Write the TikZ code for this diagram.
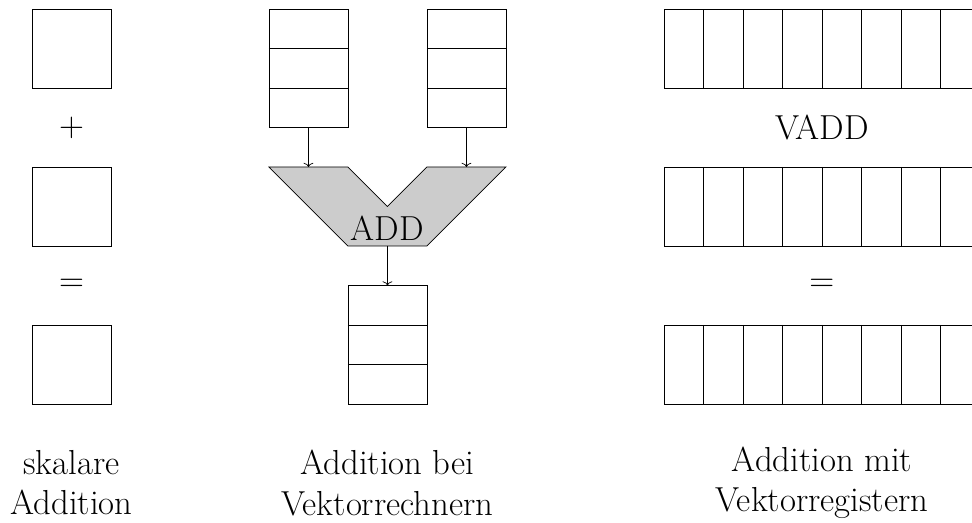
\documentclass[tikz,border=0pt]{standalone}
\usetikzlibrary{arrows.meta}
\begin{document}
\begin{tikzpicture}[
  line width=0.5pt,
  sq/.style={draw, minimum width=2cm, minimum height=2cm, inner sep=0pt, outer sep=0pt},
  vreg/.style={draw, minimum width=2cm, minimum height=3cm, inner sep=0pt, outer sep=0pt},
  hreg/.style={draw, minimum width=8cm, minimum height=2cm, inner sep=0pt, outer sep=0pt},
  lbl/.style={font=\fontsize{25}{29}\selectfont, inner sep=0pt, align=center},
  alu/.style={draw, fill=black!20, line join=miter},
  arr/.style={-{To[width=7pt,length=3pt]}}
]
\useasboundingbox (-0.81,0.228) rectangle (23.80,-13.01);
% scalar addition
\node[sq] (s1) at (1,-1) {};
\node[sq] (s2) at (1,-5) {};
\node[sq] (s3) at (1,-9) {};
\node[lbl] (plus) at (1,-3) {$+$};
\node[lbl] (eq1) at (1,-7) {$=$};
\node[lbl] (t1) at (1,-12) {skalare\\Addition};
% vector computer
\node[vreg] (ra) at (7,-1.5) {};
\node[vreg] (rb) at (11,-1.5) {};
\node[vreg] (rc) at (9,-8.5) {};
\foreach \r in {ra,rb,rc}{
  \draw ([yshift=-1cm]\r.north west) -- ([yshift=-1cm]\r.north east);
  \draw ([yshift=-2cm]\r.north west) -- ([yshift=-2cm]\r.north east);
}
\coordinate (a1) at (6,-4);
\coordinate (a2) at (8,-4);
\coordinate (a3) at (9,-5);
\coordinate (a4) at (10,-4);
\coordinate (a5) at (12,-4);
\coordinate (a6) at (10,-6);
\coordinate (a7) at (8,-6);
\draw[alu] (a1) -- (a2) -- (a3) -- (a4) -- (a5) -- (a6) -- (a7) -- cycle;
\node[lbl] (add) at (9,-5.55) {ADD};
\coordinate (inA) at (7,-4);
\coordinate (inB) at (11,-4);
\coordinate (out) at (9,-6);
\draw[arr] (ra) -- (inA);
\draw[arr] (rb) -- (inB);
\draw[arr] (out) -- (rc);
\node[lbl] (t2) at (9,-12) {Addition bei\\Vektorrechnern};
% vector registers
\node[hreg] (v1) at (20,-1) {};
\node[hreg] (v2) at (20,-5) {};
\node[hreg] (v3) at (20,-9) {};
\foreach \v in {v1,v2,v3}{
  \foreach \i in {1,...,7}{
    \draw ([xshift=\i cm]\v.north west) -- ([xshift=\i cm]\v.south west);
  }
}
\node[lbl] (vadd) at (20,-3) {VADD};
\node[lbl] (eq2) at (20,-7) {$=$};
\node[lbl] (t3) at (20,-12) {Addition mit\\Vektorregistern};
\end{tikzpicture}
\end{document}
